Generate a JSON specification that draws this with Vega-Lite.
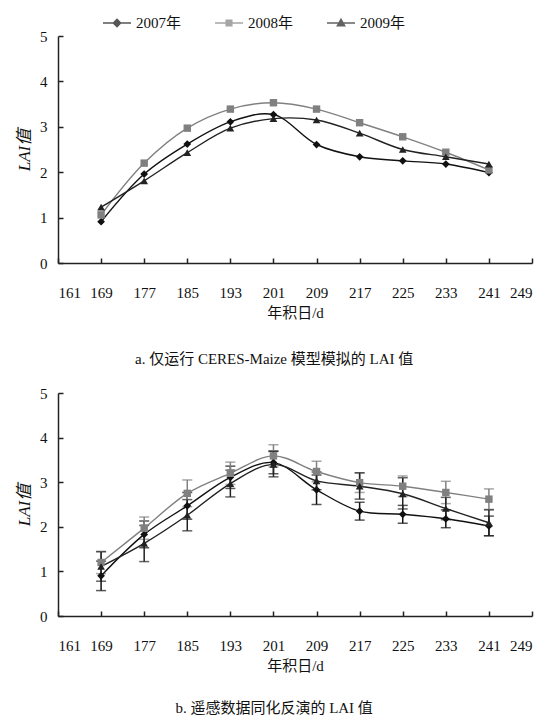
{
  "$schema": "https://vega.github.io/schema/vega-lite/v6.json",
  "background": "white",
  "padding": {"left": 15, "top": 8, "right": 5, "bottom": 5},
  "config": {
    "font": "Liberation Serif, Noto Sans CJK SC",
    "view": {"stroke": null},
    "concat": {"spacing": 19},
    "axis": {
      "grid": false,
      "domainColor": "#222",
      "domainWidth": 1.5,
      "tickColor": "#222",
      "tickWidth": 1.5,
      "tickSize": -5,
      "labelFontSize": 15,
      "labelColor": "#111",
      "titleFontSize": 15,
      "titleFontWeight": "normal",
      "titleColor": "#111",
      "labelFont": "Liberation Serif",
      "titleFont": "Liberation Serif, Noto Sans CJK SC"
    },
    "axisX": {"labelPadding": 27, "titlePadding": 5},
    "axisY": {"labelPadding": 16, "titlePadding": 6, "titleFontSize": 17, "titleFontStyle": "italic"},
    "legend": {
      "labelFontSize": 15,
      "labelFont": "Liberation Serif, Noto Sans CJK SC",
      "labelColor": "#111"
    }
  },
  "data": {
    "values": [
      {"panel": "a", "year": "2007年", "day": 169, "lai": 0.91},
      {"panel": "a", "year": "2007年", "day": 177, "lai": 1.96},
      {"panel": "a", "year": "2007年", "day": 185, "lai": 2.62},
      {"panel": "a", "year": "2007年", "day": 193, "lai": 3.11},
      {"panel": "a", "year": "2007年", "day": 201, "lai": 3.27},
      {"panel": "a", "year": "2007年", "day": 209, "lai": 2.61},
      {"panel": "a", "year": "2007年", "day": 217, "lai": 2.34},
      {"panel": "a", "year": "2007年", "day": 225, "lai": 2.25},
      {"panel": "a", "year": "2007年", "day": 233, "lai": 2.18},
      {"panel": "a", "year": "2007年", "day": 241, "lai": 1.99},
      {"panel": "a", "year": "2008年", "day": 169, "lai": 1.06},
      {"panel": "a", "year": "2008年", "day": 177, "lai": 2.2},
      {"panel": "a", "year": "2008年", "day": 185, "lai": 2.97},
      {"panel": "a", "year": "2008年", "day": 193, "lai": 3.39},
      {"panel": "a", "year": "2008年", "day": 201, "lai": 3.53},
      {"panel": "a", "year": "2008年", "day": 209, "lai": 3.39},
      {"panel": "a", "year": "2008年", "day": 217, "lai": 3.09},
      {"panel": "a", "year": "2008年", "day": 225, "lai": 2.78},
      {"panel": "a", "year": "2008年", "day": 233, "lai": 2.44},
      {"panel": "a", "year": "2008年", "day": 241, "lai": 2.05},
      {"panel": "a", "year": "2009年", "day": 169, "lai": 1.23},
      {"panel": "a", "year": "2009年", "day": 177, "lai": 1.81},
      {"panel": "a", "year": "2009年", "day": 185, "lai": 2.43},
      {"panel": "a", "year": "2009年", "day": 193, "lai": 2.97},
      {"panel": "a", "year": "2009年", "day": 201, "lai": 3.18},
      {"panel": "a", "year": "2009年", "day": 209, "lai": 3.15},
      {"panel": "a", "year": "2009年", "day": 217, "lai": 2.86},
      {"panel": "a", "year": "2009年", "day": 225, "lai": 2.5},
      {"panel": "a", "year": "2009年", "day": 233, "lai": 2.34},
      {"panel": "a", "year": "2009年", "day": 241, "lai": 2.18},
      {"panel": "b", "year": "2007年", "day": 169, "lai": 0.9, "lo": 0.57, "hi": 1.23},
      {"panel": "b", "year": "2007年", "day": 177, "lai": 1.83, "lo": 1.53, "hi": 2.13},
      {"panel": "b", "year": "2007年", "day": 185, "lai": 2.47, "lo": 2.17, "hi": 2.77},
      {"panel": "b", "year": "2007年", "day": 193, "lai": 3.11, "lo": 2.86, "hi": 3.36},
      {"panel": "b", "year": "2007年", "day": 201, "lai": 3.44, "lo": 3.19, "hi": 3.69},
      {"panel": "b", "year": "2007年", "day": 209, "lai": 2.83, "lo": 2.5, "hi": 3.16},
      {"panel": "b", "year": "2007年", "day": 217, "lai": 2.35, "lo": 2.15, "hi": 2.55},
      {"panel": "b", "year": "2007年", "day": 225, "lai": 2.28, "lo": 2.08, "hi": 2.48},
      {"panel": "b", "year": "2007年", "day": 233, "lai": 2.18, "lo": 1.98, "hi": 2.38},
      {"panel": "b", "year": "2007年", "day": 241, "lai": 2.02, "lo": 1.8, "hi": 2.24},
      {"panel": "b", "year": "2008年", "day": 169, "lai": 1.2, "lo": 0.95, "hi": 1.45},
      {"panel": "b", "year": "2008年", "day": 177, "lai": 1.97, "lo": 1.72, "hi": 2.22},
      {"panel": "b", "year": "2008年", "day": 185, "lai": 2.75, "lo": 2.45, "hi": 3.05},
      {"panel": "b", "year": "2008年", "day": 193, "lai": 3.2, "lo": 2.95, "hi": 3.45},
      {"panel": "b", "year": "2008年", "day": 201, "lai": 3.59, "lo": 3.34, "hi": 3.84},
      {"panel": "b", "year": "2008年", "day": 209, "lai": 3.24, "lo": 3.01, "hi": 3.47},
      {"panel": "b", "year": "2008年", "day": 217, "lai": 2.99, "lo": 2.77, "hi": 3.21},
      {"panel": "b", "year": "2008年", "day": 225, "lai": 2.91, "lo": 2.68, "hi": 3.14},
      {"panel": "b", "year": "2008年", "day": 233, "lai": 2.77, "lo": 2.52, "hi": 3.02},
      {"panel": "b", "year": "2008年", "day": 241, "lai": 2.62, "lo": 2.39, "hi": 2.85},
      {"panel": "b", "year": "2009年", "day": 169, "lai": 1.11, "lo": 0.78, "hi": 1.44},
      {"panel": "b", "year": "2009年", "day": 177, "lai": 1.63, "lo": 1.22, "hi": 2.03},
      {"panel": "b", "year": "2009年", "day": 185, "lai": 2.26, "lo": 1.91, "hi": 2.61},
      {"panel": "b", "year": "2009年", "day": 193, "lai": 2.97, "lo": 2.67, "hi": 3.27},
      {"panel": "b", "year": "2009年", "day": 201, "lai": 3.4, "lo": 3.12, "hi": 3.7},
      {"panel": "b", "year": "2009年", "day": 209, "lai": 3.03, "lo": 2.83, "hi": 3.23},
      {"panel": "b", "year": "2009年", "day": 217, "lai": 2.91, "lo": 2.62, "hi": 3.21},
      {"panel": "b", "year": "2009年", "day": 225, "lai": 2.74, "lo": 2.4, "hi": 3.1},
      {"panel": "b", "year": "2009年", "day": 233, "lai": 2.41, "lo": 2.16, "hi": 2.66},
      {"panel": "b", "year": "2009年", "day": 241, "lai": 2.09, "lo": 1.8, "hi": 2.38}
    ]
  },
  "vconcat": [
    {
      "width": 474,
      "height": 227,
      "title": {"text": "a. 仅运行 CERES-Maize 模型模拟的 LAI 值", "orient": "bottom", "anchor": "middle", "frame": "bounds", "offset": 32, "fontSize": 15, "fontWeight": "normal", "color": "#111", "font": "Liberation Serif, Noto Sans CJK SC"},
      "transform": [{"filter": "datum.panel == 'a'"}],
      "encoding": {
        "x": {"field": "day", "type": "quantitative", "scale": {"domain": [161, 249], "nice": false, "zero": false}, "axis": {"values": [161, 169, 177, 185, 193, 201, 209, 217, 225, 233, 241, 249], "title": "年积日/d"}},
        "y": {"field": "lai", "type": "quantitative", "scale": {"domain": [0, 5], "nice": false}, "axis": {"values": [0, 1, 2, 3, 4, 5], "title": "LAI值"}},
        "color": {"field": "year", "type": "nominal", "scale": {"domain": ["2007年", "2008年", "2009年"], "range": ["#111111", "#808080", "#222222"]}, "legend": {
          "orient": "none", "legendX": 44, "legendY": -28, "title": null, "direction": "horizontal", "symbolSize": 784, "symbolOpacity": 1, "symbolStrokeWidth": 1.5, "columnPadding": 30, "labelOffset": 4
        }}
      },
      "layer": [
        {"mark": {"type": "point", "filled": true, "opacity": 0, "size": 1},
         "encoding": {
           "stroke": {"field": "year", "type": "nominal", "scale": {"domain": ["2007年", "2008年", "2009年"], "range": ["#111111", "#808080", "#222222"]}, "legend": {"orient": "none", "legendX": 44, "legendY": -28, "title": null, "direction": "horizontal", "symbolSize": 784, "symbolOpacity": 1, "symbolStrokeWidth": 1.5, "columnPadding": 30, "labelOffset": 4}},
           "shape": {"field": "year", "type": "nominal", "scale": {"domain": ["2007年", "2008年", "2009年"], "range": ["M-1,0H1M-0.26,0L0,-0.26L0.26,0L0,0.26Z", "M-1,0H1M-0.2,-0.2H0.2V0.2H-0.2Z", "M-1,0H1M-0.26,0.2L0,-0.26L0.26,0.2Z"]}, "legend": {"orient": "none", "legendX": 44, "legendY": -28, "title": null, "direction": "horizontal", "symbolSize": 784, "symbolOpacity": 1, "symbolStrokeWidth": 1.5, "columnPadding": 30, "labelOffset": 4}}
         }},
        {"mark": {"type": "line", "interpolate": "catmull-rom", "strokeWidth": 1.4}},
        {"transform": [{"filter": "datum.year == '2007年'"}], "mark": {"type": "point", "shape": "diamond", "filled": true, "size": 60, "opacity": 1}},
        {"transform": [{"filter": "datum.year == '2008年'"}], "mark": {"type": "point", "shape": "square", "filled": true, "size": 55, "opacity": 1}},
        {"transform": [{"filter": "datum.year == '2009年'"}], "mark": {"type": "point", "shape": "triangle-up", "filled": true, "size": 60, "opacity": 1}}
      ]
    },
    {
      "width": 474,
      "height": 223,
      "title": {"text": "b. 遥感数据同化反演的 LAI 值", "orient": "bottom", "anchor": "middle", "frame": "bounds", "offset": 28, "fontSize": 15, "fontWeight": "normal", "color": "#111", "font": "Liberation Serif, Noto Sans CJK SC"},
      "transform": [{"filter": "datum.panel == 'b'"}],
      "encoding": {
        "x": {"field": "day", "type": "quantitative", "scale": {"domain": [161, 249], "nice": false, "zero": false}, "axis": {"values": [161, 169, 177, 185, 193, 201, 209, 217, 225, 233, 241, 249], "title": "年积日/d"}},
        "color": {"field": "year", "type": "nominal", "scale": {"domain": ["2007年", "2008年", "2009年"], "range": ["#111111", "#808080", "#222222"]}}
      },
      "layer": [
        {"mark": {"type": "errorbar", "ticks": {"size": 10}, "thickness": 1.5}, "encoding": {"y": {"field": "lo", "type": "quantitative", "scale": {"domain": [0, 5], "nice": false}, "axis": {"values": [0, 1, 2, 3, 4, 5], "title": "LAI值"}}, "y2": {"field": "hi"}}},
        {"mark": {"type": "line", "interpolate": "catmull-rom", "strokeWidth": 1.4}, "encoding": {"y": {"field": "lai", "type": "quantitative"}}},
        {"transform": [{"filter": "datum.year == '2007年'"}], "mark": {"type": "point", "shape": "diamond", "filled": true, "size": 60, "opacity": 1}, "encoding": {"y": {"field": "lai", "type": "quantitative"}}},
        {"transform": [{"filter": "datum.year == '2008年'"}], "mark": {"type": "point", "shape": "square", "filled": true, "size": 55, "opacity": 1}, "encoding": {"y": {"field": "lai", "type": "quantitative"}}},
        {"transform": [{"filter": "datum.year == '2009年'"}], "mark": {"type": "point", "shape": "triangle-up", "filled": true, "size": 60, "opacity": 1}, "encoding": {"y": {"field": "lai", "type": "quantitative"}}}
      ]
    }
  ]
}
